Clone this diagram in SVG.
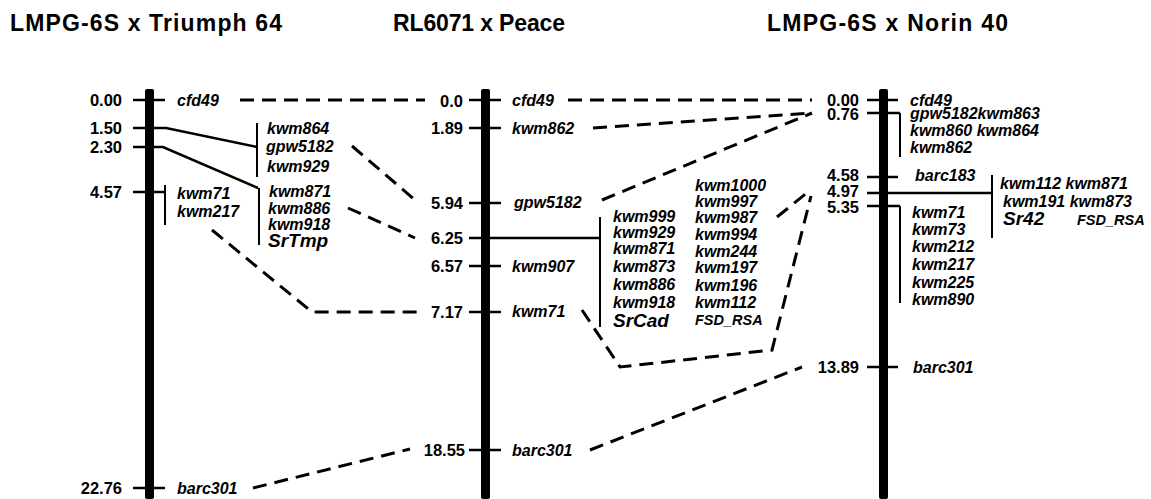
<svg xmlns="http://www.w3.org/2000/svg" width="1151" height="499" viewBox="0 0 1151 499">
<style>
.title{font-family:"Liberation Sans",Arial,sans-serif;font-weight:bold;font-size:23px;fill:#000}
.num{font-family:"Liberation Sans",Arial,sans-serif;font-weight:bold;font-size:16.5px;fill:#000;text-anchor:end}
.mk{font-family:"Liberation Sans",Arial,sans-serif;font-weight:bold;font-style:italic;font-size:16px;fill:#000}
.sr{font-family:"Liberation Sans",Arial,sans-serif;font-weight:bold;font-style:italic;font-size:19px;fill:#000}
.fsd{font-family:"Liberation Sans",Arial,sans-serif;font-weight:bold;font-style:italic;font-size:14.5px;fill:#000}
.bar{fill:#000}
.tick{stroke:#000;stroke-width:2.5;fill:none}
.br{stroke:#000;stroke-width:2;fill:none}
.dash{stroke:#000;stroke-width:3;stroke-dasharray:14 8;fill:none}
</style>
<rect width="1151" height="499" fill="#fff"/>
<g id="titles">
<text class="title" x="10" y="31" textLength="272">LMPG-6S x Triumph 64</text>
<text class="title" x="393" y="31" textLength="172">RL6071 x Peace</text>
<text class="title" x="767" y="31" textLength="241">LMPG-6S x Norin 40</text>
</g>
<g id="connectors">
<path class="dash" d="M240,100 H425"/>
<path class="dash" d="M568,100 H812"/>
<path class="dash" d="M593,128 L812,113"/>
<path class="dash" d="M602,200 L812,113"/>
<path class="dash" d="M352,146 L415,200"/>
<path class="dash" d="M348,208 L415,238"/>
<path class="dash" d="M212,230 L312,312 H420"/>
<path class="dash" d="M582,310 L620,367 L772,350 L811,196"/>
<path class="dash" d="M777,217 L808,192"/>
<path class="dash" d="M590,450 L802,367"/>
<path class="dash" d="M253,488 L410,449"/>
</g>
<g id="map-triumph64">
<rect class="bar" x="145" y="89" width="9" height="410" rx="2"/>
<path class="tick" d="M133,100 H165 M133,128 H166 L257,147 M133,147 H163 L258,188 M133,192 H165 M133,488 H165"/>
<path class="br" d="M257,123 V177 M259,188 V245 M165,185 V225"/>
<text class="num" x="122" y="106">0.00</text>
<text class="num" x="122" y="134">1.50</text>
<text class="num" x="122" y="153">2.30</text>
<text class="num" x="122" y="198">4.57</text>
<text class="num" x="122" y="494">22.76</text>
<text class="mk" x="177" y="106">cfd49</text>
<text class="mk" x="177" y="199">kwm71</text>
<text class="mk" x="177" y="217">kwm217</text>
<text class="mk" x="177" y="494">barc301</text>
<text class="mk" x="267" y="134">kwm864</text>
<text class="mk" x="266" y="152">gpw5182</text>
<text class="mk" x="267" y="172">kwm929</text>
<text class="mk" x="269" y="197">kwm871</text>
<text class="mk" x="268" y="214">kwm886</text>
<text class="mk" x="268" y="230">kwm918</text>
<text class="sr" x="268" y="247">SrTmp</text>
</g>
<g id="map-peace">
<rect class="bar" x="481" y="89" width="9" height="410" rx="2"/>
<path class="tick" d="M469,100 H501 M469,128 H501 M469,203 H501 M469,238 H600 M469,266 H501 M469,312 H501 M469,450 H501"/>
<path class="br" d="M600,217 V327"/>
<text class="num" x="463" y="107">0.0</text>
<text class="num" x="463" y="134">1.89</text>
<text class="num" x="463" y="209">5.94</text>
<text class="num" x="463" y="244">6.25</text>
<text class="num" x="463" y="272">6.57</text>
<text class="num" x="463" y="318">7.17</text>
<text class="num" x="465" y="456">18.55</text>
<text class="mk" x="512" y="106">cfd49</text>
<text class="mk" x="512" y="134">kwm862</text>
<text class="mk" x="514" y="208">gpw5182</text>
<text class="mk" x="512" y="272">kwm907</text>
<text class="mk" x="512" y="317">kwm71</text>
<text class="mk" x="512" y="456">barc301</text>
<text class="mk" x="613" y="222">kwm999</text>
<text class="mk" x="613" y="238">kwm929</text>
<text class="mk" x="613" y="254">kwm871</text>
<text class="mk" x="613" y="272">kwm873</text>
<text class="mk" x="613" y="290">kwm886</text>
<text class="mk" x="613" y="308">kwm918</text>
<text class="sr" x="613" y="327">SrCad</text>
<text class="mk" x="695" y="191">kwm1000</text>
<text class="mk" x="695" y="207">kwm997</text>
<text class="mk" x="695" y="223">kwm987</text>
<text class="mk" x="695" y="240">kwm994</text>
<text class="mk" x="695" y="257">kwm244</text>
<text class="mk" x="695" y="273">kwm197</text>
<text class="mk" x="695" y="291">kwm196</text>
<text class="mk" x="695" y="308">kwm112</text>
<text class="fsd" x="695" y="325">FSD_RSA</text>
</g>
<g id="map-norin40">
<rect class="bar" x="879" y="89" width="9" height="410" rx="2"/>
<path class="tick" d="M867,100 H898 M867,113 H900 M867,177 H898 M867,193 H992 M867,206 H900 M867,367 H898"/>
<path class="br" d="M900,113 V157 M992,175 V238 M900,206 V303"/>
<text class="num" x="859" y="106">0.00</text>
<text class="num" x="859" y="120">0.76</text>
<text class="num" x="859" y="181">4.58</text>
<text class="num" x="859" y="197">4.97</text>
<text class="num" x="859" y="213">5.35</text>
<text class="num" x="859" y="373">13.89</text>
<text class="mk" x="910" y="106">cfd49</text>
<text class="mk" x="910" y="119">gpw5182kwm863</text>
<text class="mk" x="910" y="136">kwm860 kwm864</text>
<text class="mk" x="910" y="153">kwm862</text>
<text class="mk" x="915" y="181">barc183</text>
<text class="mk" x="1000" y="189">kwm112 kwm871</text>
<text class="mk" x="1003" y="207">kwm191 kwm873</text>
<text class="sr" x="1003" y="225">Sr42</text>
<text class="fsd" x="1077" y="225">FSD_RSA</text>
<text class="mk" x="912" y="218">kwm71</text>
<text class="mk" x="912" y="235">kwm73</text>
<text class="mk" x="912" y="252">kwm212</text>
<text class="mk" x="912" y="270">kwm217</text>
<text class="mk" x="912" y="288">kwm225</text>
<text class="mk" x="912" y="305">kwm890</text>
<text class="mk" x="913" y="373">barc301</text>
</g>
</svg>
